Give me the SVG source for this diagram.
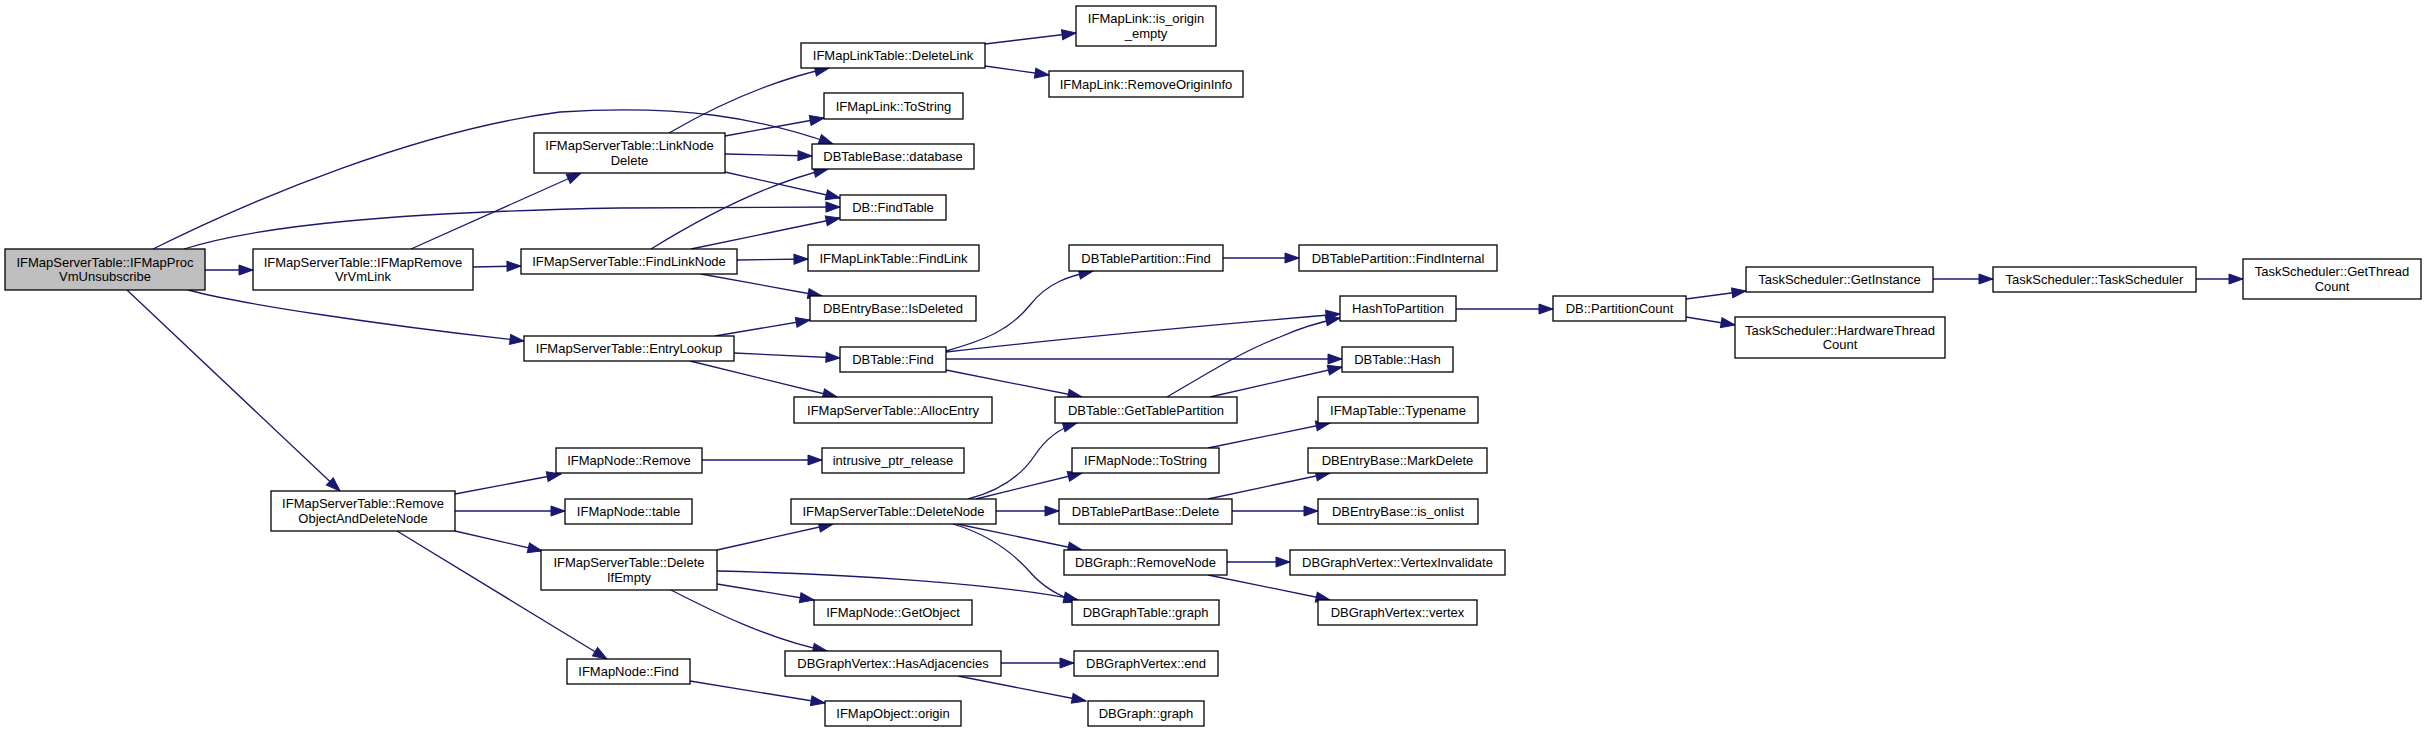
<svg xmlns="http://www.w3.org/2000/svg" width="2427" height="733" viewBox="0 0 2427 733">
<style>
.n rect{fill:#ffffff;stroke:#000000;stroke-width:1.3}
.n.root rect{fill:#bfbfbf}
.n text{font-family:"Liberation Sans",Arial,Helvetica,sans-serif;font-size:13px;text-anchor:middle;fill:#000000}
.e path{fill:none;stroke:#191970;stroke-width:1.3;marker-end:url(#arr)}
</style>
<defs>
<marker id="arr" markerWidth="15" markerHeight="11" refX="14" refY="5" orient="auto" markerUnits="userSpaceOnUse" overflow="visible">
<path d="M0,0 L14,5 L0,10 Z" fill="#191970" stroke="#191970" stroke-width="1"/>
</marker>
</defs>
<rect x="0" y="0" width="2427" height="733" fill="#ffffff"/>
<g id="edges" class="e">
<path d="M205,270 L253,270"/>
<path d="M153,249 C255,198 420,130 560,112 C680,104 760,118 833,144"/>
<path d="M184,249 C260,225 400,212 620,208 L840,207"/>
<path d="M188,290 C240,304 380,325 524,341"/>
<path d="M127,290 L340,491"/>
<path d="M411,249 L581,173"/>
<path d="M473,267 L521,266"/>
<path d="M669,133 C700,115 760,83 829,68"/>
<path d="M725,136 L824,118"/>
<path d="M725,154 L812,156"/>
<path d="M725,172 L840,198"/>
<path d="M651,249 C690,225 760,185 828,169"/>
<path d="M691,249 L840,218"/>
<path d="M737,260 L808,259"/>
<path d="M701,274 L822,296"/>
<path d="M715,336 L810,320"/>
<path d="M734,353 L840,358"/>
<path d="M690,361 L837,397"/>
<path d="M985,44 L1076,33"/>
<path d="M985,66 L1049,75"/>
<path d="M946,351 C985,340 1010,330 1030,305 C1048,282 1070,276 1093,271"/>
<path d="M946,352 C1050,340 1200,326 1340,314"/>
<path d="M946,359 L1342,359"/>
<path d="M946,370 L1082,397"/>
<path d="M1223,258 L1299,258"/>
<path d="M1167,397 C1200,378 1240,352 1280,337 C1300,328 1320,322 1340,318"/>
<path d="M1210,397 L1342,367"/>
<path d="M1456,309 L1553,309"/>
<path d="M1686,299 L1746,291"/>
<path d="M1686,317 L1735,325"/>
<path d="M1933,279 L1993,279"/>
<path d="M2196,279 L2243,279"/>
<path d="M455,494 L561,474"/>
<path d="M455,511 L565,511"/>
<path d="M455,531 L542,551"/>
<path d="M397,531 L607,659"/>
<path d="M702,460 L822,460"/>
<path d="M717,550 L833,524"/>
<path d="M717,571 C850,574 1000,584 1078,600"/>
<path d="M717,584 L814,600"/>
<path d="M671,590 C710,610 770,640 827,651"/>
<path d="M968,499 C995,492 1020,478 1035,455 C1045,440 1060,428 1077,423"/>
<path d="M976,499 L1082,473"/>
<path d="M996,511 L1059,511"/>
<path d="M957,524 L1082,550"/>
<path d="M953,524 C990,535 1015,555 1030,572 C1042,586 1058,596 1078,602"/>
<path d="M1208,448 L1330,423"/>
<path d="M1208,499 L1330,473"/>
<path d="M1232,511 L1318,511"/>
<path d="M1227,562 L1290,562"/>
<path d="M1208,575 L1330,600"/>
<path d="M1001,663 L1074,663"/>
<path d="M958,676 L1086,701"/>
<path d="M690,681 L825,703"/>
</g>
<g id="n_proc" class="n root"><rect x="5" y="249" width="200" height="41"/><text x="105" y="266.5">IFMapServerTable::IFMapProc</text><text x="105" y="281">VmUnsubscribe</text></g>
<g id="n_removevrvm" class="n"><rect x="253" y="249" width="220" height="41"/><text x="363" y="266.5">IFMapServerTable::IFMapRemove</text><text x="363" y="281">VrVmLink</text></g>
<g id="n_linknodedelete" class="n"><rect x="534" y="133" width="191" height="40"/><text x="629.5" y="150">IFMapServerTable::LinkNode</text><text x="629.5" y="164.5">Delete</text></g>
<g id="n_findlinknode" class="n"><rect x="521" y="249" width="216" height="25"/><text x="629" y="266">IFMapServerTable::FindLinkNode</text></g>
<g id="n_entrylookup" class="n"><rect x="524" y="336" width="210" height="25"/><text x="629" y="353">IFMapServerTable::EntryLookup</text></g>
<g id="n_removeobj" class="n"><rect x="271" y="491" width="184" height="40"/><text x="363" y="508">IFMapServerTable::Remove</text><text x="363" y="522.5">ObjectAndDeleteNode</text></g>
<g id="n_deletelink" class="n"><rect x="801" y="43" width="184" height="25"/><text x="893" y="60">IFMapLinkTable::DeleteLink</text></g>
<g id="n_linktostring" class="n"><rect x="824" y="93" width="139" height="26"/><text x="893.5" y="110.5">IFMapLink::ToString</text></g>
<g id="n_database" class="n"><rect x="812" y="144" width="162" height="25"/><text x="893" y="161">DBTableBase::database</text></g>
<g id="n_findtable" class="n"><rect x="840" y="195" width="106" height="25"/><text x="893" y="212">DB::FindTable</text></g>
<g id="n_findlink" class="n"><rect x="808" y="245" width="171" height="26"/><text x="893.5" y="262.5">IFMapLinkTable::FindLink</text></g>
<g id="n_isdeleted" class="n"><rect x="810" y="296" width="166" height="25"/><text x="893" y="313">DBEntryBase::IsDeleted</text></g>
<g id="n_dbtablefind" class="n"><rect x="840" y="347" width="106" height="25"/><text x="893" y="364">DBTable::Find</text></g>
<g id="n_allocentry" class="n"><rect x="794" y="397" width="198" height="26"/><text x="893" y="414.5">IFMapServerTable::AllocEntry</text></g>
<g id="n_noderemove" class="n"><rect x="556" y="448" width="146" height="25"/><text x="629" y="465">IFMapNode::Remove</text></g>
<g id="n_nodetable" class="n"><rect x="565" y="499" width="127" height="25"/><text x="628.5" y="516">IFMapNode::table</text></g>
<g id="n_deleteifempty" class="n"><rect x="541" y="550" width="176" height="40"/><text x="629" y="567">IFMapServerTable::Delete</text><text x="629" y="581.5">IfEmpty</text></g>
<g id="n_nodefind" class="n"><rect x="567" y="659" width="123" height="25"/><text x="628.5" y="676">IFMapNode::Find</text></g>
<g id="n_intrusive" class="n"><rect x="822" y="448" width="142" height="25"/><text x="893" y="465">intrusive_ptr_release</text></g>
<g id="n_deletenode" class="n"><rect x="791" y="499" width="205" height="25"/><text x="893.5" y="516">IFMapServerTable::DeleteNode</text></g>
<g id="n_getobject" class="n"><rect x="814" y="600" width="158" height="25"/><text x="893" y="617">IFMapNode::GetObject</text></g>
<g id="n_hasadj" class="n"><rect x="785" y="651" width="216" height="25"/><text x="893" y="668">DBGraphVertex::HasAdjacencies</text></g>
<g id="n_origin" class="n"><rect x="825" y="701" width="136" height="25"/><text x="893" y="718">IFMapObject::origin</text></g>
<g id="n_isoriginempty" class="n"><rect x="1076" y="6" width="140" height="40"/><text x="1146" y="23">IFMapLink::is_origin</text><text x="1146" y="37.5">_empty</text></g>
<g id="n_removeorigininfo" class="n"><rect x="1049" y="71" width="194" height="26"/><text x="1146" y="88.5">IFMapLink::RemoveOriginInfo</text></g>
<g id="n_tpfind" class="n"><rect x="1069" y="245" width="154" height="26"/><text x="1146" y="262.5">DBTablePartition::Find</text></g>
<g id="n_gettablepartition" class="n"><rect x="1055" y="397" width="182" height="26"/><text x="1146" y="414.5">DBTable::GetTablePartition</text></g>
<g id="n_nodetostring" class="n"><rect x="1072" y="448" width="147" height="25"/><text x="1145.5" y="465">IFMapNode::ToString</text></g>
<g id="n_partbasedelete" class="n"><rect x="1059" y="499" width="173" height="25"/><text x="1145.5" y="516">DBTablePartBase::Delete</text></g>
<g id="n_removenode" class="n"><rect x="1064" y="550" width="163" height="25"/><text x="1145.5" y="567">DBGraph::RemoveNode</text></g>
<g id="n_graphtablegraph" class="n"><rect x="1072" y="600" width="147" height="25"/><text x="1145.5" y="617">DBGraphTable::graph</text></g>
<g id="n_vertexend" class="n"><rect x="1074" y="651" width="144" height="25"/><text x="1146" y="668">DBGraphVertex::end</text></g>
<g id="n_dbgraphgraph" class="n"><rect x="1088" y="701" width="116" height="25"/><text x="1146" y="718">DBGraph::graph</text></g>
<g id="n_findinternal" class="n"><rect x="1299" y="245" width="198" height="26"/><text x="1398" y="262.5">DBTablePartition::FindInternal</text></g>
<g id="n_hashtopartition" class="n"><rect x="1340" y="296" width="116" height="25"/><text x="1398" y="313">HashToPartition</text></g>
<g id="n_dbtablehash" class="n"><rect x="1342" y="347" width="111" height="25"/><text x="1397.5" y="364">DBTable::Hash</text></g>
<g id="n_typename" class="n"><rect x="1318" y="397" width="160" height="26"/><text x="1398" y="414.5">IFMapTable::Typename</text></g>
<g id="n_markdelete" class="n"><rect x="1308" y="448" width="179" height="25"/><text x="1397.5" y="465">DBEntryBase::MarkDelete</text></g>
<g id="n_isonlist" class="n"><rect x="1318" y="499" width="160" height="25"/><text x="1398" y="516">DBEntryBase::is_onlist</text></g>
<g id="n_vertexinvalidate" class="n"><rect x="1290" y="550" width="215" height="25"/><text x="1397.5" y="567">DBGraphVertex::VertexInvalidate</text></g>
<g id="n_vertex" class="n"><rect x="1318" y="600" width="159" height="25"/><text x="1397.5" y="617">DBGraphVertex::vertex</text></g>
<g id="n_partitioncount" class="n"><rect x="1553" y="296" width="133" height="25"/><text x="1619.5" y="313">DB::PartitionCount</text></g>
<g id="n_getinstance" class="n"><rect x="1746" y="267" width="187" height="25"/><text x="1839.5" y="284">TaskScheduler::GetInstance</text></g>
<g id="n_hwthreadcount" class="n"><rect x="1735" y="317" width="210" height="41"/><text x="1840" y="334.5">TaskScheduler::HardwareThread</text><text x="1840" y="349">Count</text></g>
<g id="n_taskscheduler" class="n"><rect x="1993" y="267" width="203" height="25"/><text x="2094.5" y="284">TaskScheduler::TaskScheduler</text></g>
<g id="n_getthreadcount" class="n"><rect x="2243" y="259" width="178" height="40"/><text x="2332" y="276">TaskScheduler::GetThread</text><text x="2332" y="290.5">Count</text></g>
</svg>
